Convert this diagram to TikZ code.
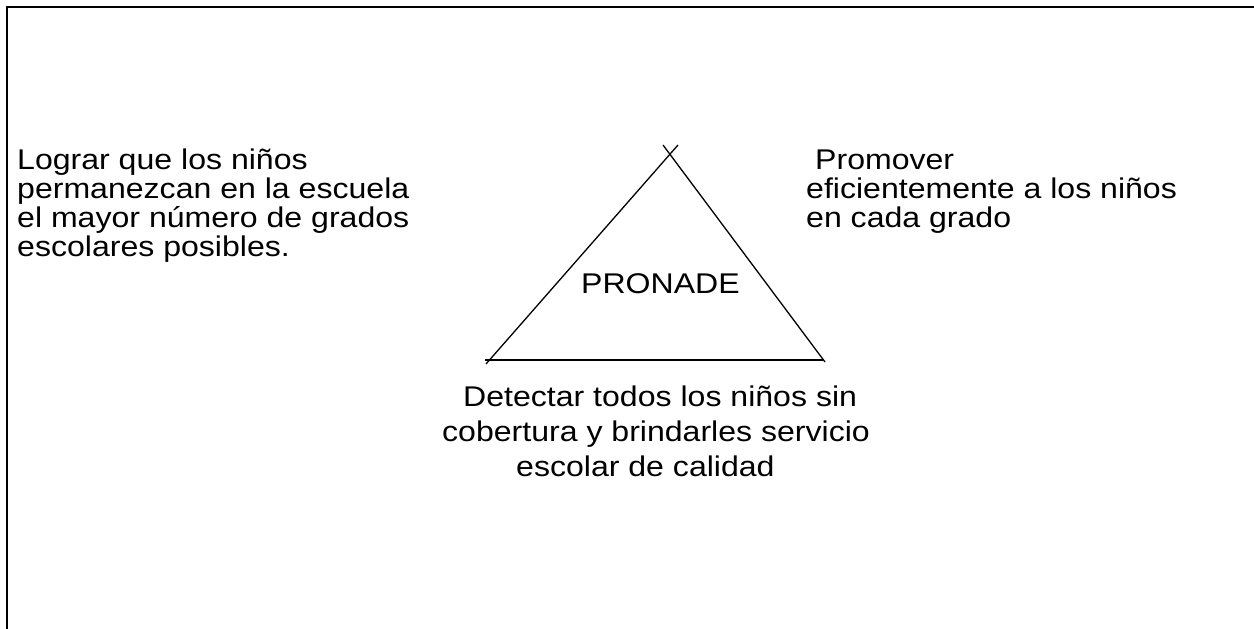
\documentclass[tikz,border=0pt]{standalone}
\usepackage{fontspec}
\setmainfont[FakeStretch=1.125]{Liberation Sans}
\begin{document}
\begin{tikzpicture}[x=1pt,y=-1pt,
  framel/.style={line width=1.7pt},
  tri/.style={line width=1.3pt},
  txt/.style={font=\fontsize{28.5}{29}\selectfont, inner sep=0pt, align=left, anchor=base west}]
\useasboundingbox (0,0) rectangle (1254,629);
% frame
\coordinate (ftr) at (1254,7);
\coordinate (ftl) at (7,7);
\coordinate (fbl) at (7,629);
\draw[framel] (ftr) -- (ftl) -- (fbl);
% triangle
\coordinate (lA) at (486,364);
\coordinate (lB) at (678,145);
\coordinate (rA) at (663,145);
\coordinate (rB) at (825,362);
\coordinate (bA) at (485,360);
\coordinate (bB) at (823,360);
\draw[tri] (lA) -- (lB);
\draw[tri] (rA) -- (rB);
\draw[tri] (bA) -- (bB);
% texts (base anchor = baseline of last line)
\node[txt] (left) at (17,256) {Lograr que los niños\\permanezcan en la escuela\\el mayor número de grados\\escolares posibles.};
\node[txt] (right) at (806,227) {\hspace*{9pt}Promover\\eficientemente a los niños\\en cada grado};
\node[txt] (center) at (581,293) {PRONADE};
\node[txt, font=\fontsize{28.5}{35}\selectfont] (bottom) at (442,476) {\hspace*{21pt}Detectar todos los niños sin\\cobertura y brindarles servicio\\\hspace*{74pt}escolar de calidad};
\end{tikzpicture}
\end{document}
